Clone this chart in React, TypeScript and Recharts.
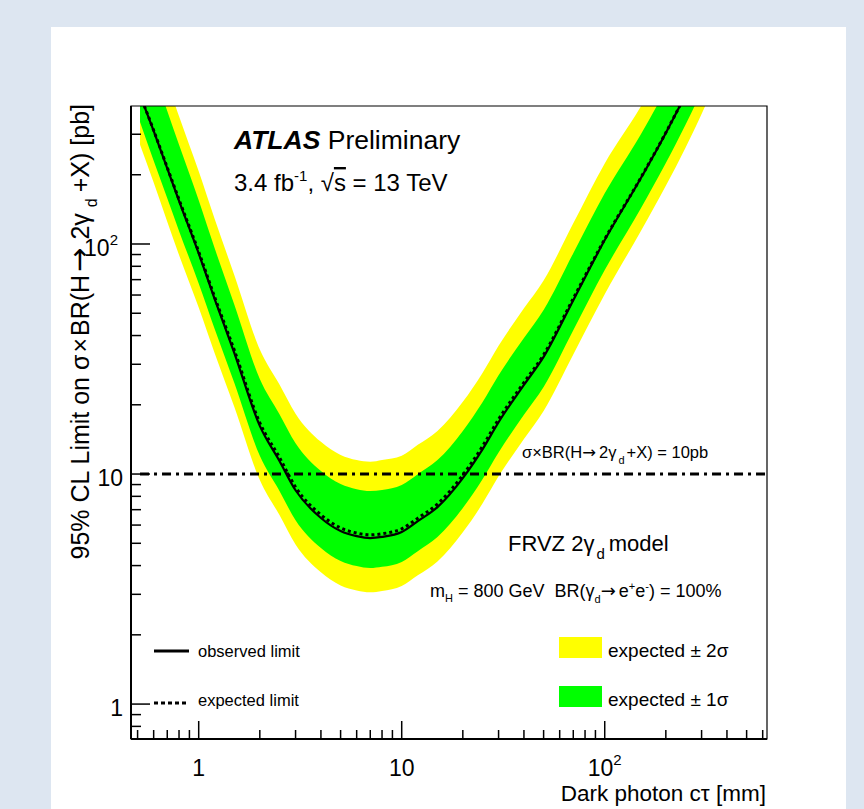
import React from 'react';
import { ComposedChart, Area, Line, XAxis, YAxis, ReferenceLine, ReferenceArea } from 'recharts';

// dark photon c*tau [mm]
const ctau = [0.514, 0.6, 0.7, 0.8, 1, 1.2, 1.5, 2, 2.5, 3, 4, 5, 6, 7, 8, 10, 12, 15, 20, 25, 30, 40, 50, 70, 100, 150, 200, 250, 300, 330];
// limits [pb]
const observed = [445, 310, 213, 154, 91, 57.5, 33.5, 16.2, 11.4, 8.5, 6.44, 5.65, 5.37, 5.27, 5.33, 5.6, 6.24, 7.18, 9.6, 12.8, 16.8, 24.4, 32.3, 57, 104, 192, 304, 446, 624, 755];
const expected = [445, 312, 215, 156, 92.5, 58.6, 34.4, 16.7, 11.8, 8.77, 6.65, 5.83, 5.54, 5.44, 5.5, 5.78, 6.43, 7.4, 9.9, 13.2, 17.3, 25.0, 33.0, 58, 105, 193, 305, 447, 625, 756];
const oneSigmaLow = [339, 230, 158, 114, 67.4, 42.6, 24.8, 12.0, 8.44, 6.3, 4.77, 4.19, 3.98, 3.9, 3.95, 4.15, 4.62, 5.32, 7.11, 9.48, 12.4, 18.1, 23.9, 42.2, 77, 142, 225, 330, 462, 559];
const oneSigmaHigh = [801, 558, 379, 270, 155, 95.5, 54.3, 25.9, 18.2, 13.6, 10.3, 9.04, 8.59, 8.43, 8.53, 8.96, 9.98, 11.5, 15.4, 20.5, 26.9, 39.0, 51.7, 91.2, 166, 298, 471, 691, 967, 1170];
const twoSigmaLow = [270, 185, 125, 89.5, 52.9, 33.4, 19.5, 9.42, 6.63, 4.94, 3.74, 3.28, 3.12, 3.06, 3.1, 3.26, 3.63, 4.17, 5.58, 7.44, 9.77, 14.2, 18.8, 33.1, 60.5, 113, 179, 262, 367, 444];
const twoSigmaHigh = [1068, 744, 505, 359, 207, 128, 73, 34.8, 24.5, 18.3, 13.8, 12.1, 11.5, 11.3, 11.5, 12.0, 13.4, 15.4, 20.6, 27.5, 36.1, 52.5, 69.4, 123, 224, 394, 623, 914, 1279, 1548];

const xTicks = [0.5, 0.6, 0.7, 0.8, 0.9, 1, 2, 3, 4, 5, 6, 7, 8, 9, 10, 20, 30, 40, 50, 60, 70, 80, 90, 100, 200, 300, 400, 500, 600];
const yTicks = [0.8, 0.9, 1, 2, 3, 4, 5, 6, 7, 8, 9, 10, 20, 30, 40, 50, 60, 70, 80, 90, 100, 200, 300];
const xDomain = [0.464, 630];
const yDomain = [0.705, 398];
const limitXsec = 10;

const FONT = '"Liberation Sans", Arial, Helvetica, sans-serif';
const ARROW_FONT = '"DejaVu Sans", sans-serif';

const chartData = ctau.map((x, i) => ({
    ctau: x,
    observed: observed[i],
    expected: expected[i],
    green: [oneSigmaLow[i], oneSigmaHigh[i]],
    yellow: [twoSigmaLow[i], twoSigmaHigh[i]],
}));

const isMajor = (v: number) => v === 1 || v === 10 || v === 100;

const XTick = ({ x, y, payload }: any) => {
    const v = payload.value;
    const len = isMajor(v) ? 18 : 9;
    return (
        <g>
            <line x1={x} y1={y} x2={x} y2={y - len} stroke="#000" strokeWidth={1.5} />
            {isMajor(v) && (
                <text x={x} y={y + 37} textAnchor="middle" fontSize={23} fontFamily={FONT} fill="#000">
                    {v === 100 ? <>10<tspan dy={-11} fontSize={15}>2</tspan></> : String(v)}
                </text>
            )}
        </g>
    );
};

const YTick = ({ x, y, payload }: any) => {
    const v = payload.value;
    const len = isMajor(v) ? 19 : 10;
    return (
        <g>
            <line x1={x} y1={y} x2={x + len} y2={y} stroke="#000" strokeWidth={1.5} />
            {isMajor(v) && (
                <text x={v === 100 ? x - 13 : x - 8} y={y + 12} textAnchor="end" fontSize={23} fontFamily={FONT} fill="#000">
                    {v === 100 ? <>10<tspan dy={-11} fontSize={15}>2</tspan></> : String(v)}
                </text>
            )}
        </g>
    );
};

const Arrow = ({ size }: { size?: number }) => <tspan fontFamily={ARROW_FONT} fontSize={size}>→</tspan>;

function Annotations() {
    return (
        <svg width={864} height={809} style={{ position: 'absolute', left: 0, top: 0, pointerEvents: 'none' }} fontFamily={FONT}>
            {/* axis titles */}
            <text transform="translate(89,104) rotate(-90)" textAnchor="end" fontSize={25} fill="#000">
                95% CL Limit on σ<tspan dx={2}>×</tspan><tspan dx={2}>BR(H</tspan><tspan dx={3}><Arrow size={29} /></tspan><tspan dx={8}>2γ</tspan><tspan dx={6} dy={8} fontSize={16}>d</tspan><tspan dx={6} dy={-8}>+X) [pb]</tspan>
            </text>
            <text x={766} y={801} textAnchor="end" fontSize={22.5} fill="#000">Dark photon cτ [mm]</text>

            <text x={234} y={149} fontSize={26.5} fill="#000">
                <tspan fontWeight="bold" fontStyle="italic">ATLAS</tspan> Preliminary
            </text>
            <text x={234} y={191} fontSize={24} fill="#000">
                3.4 fb<tspan dy={-10} fontSize={15}>-1</tspan><tspan dy={10}>, √</tspan><tspan style={{ textDecoration: 'overline' }}>s</tspan> = 13 TeV
            </text>

            <text x={522} y={458} fontSize={16.5} fill="#000">
                σ×BR(H<Arrow /><tspan dx={3}>2γ</tspan><tspan dx={2} dy={6} fontSize={11}>d</tspan><tspan dx={2} dy={-6}>+X) = 10pb</tspan>
            </text>
            <text x={508} y={551} fontSize={22} fill="#000">
                FRVZ 2γ<tspan dx={2} dy={8} fontSize={15}>d</tspan><tspan dx={4} dy={-8}>model</tspan>
            </text>
            <text x={430} y={597} fontSize={18} fill="#000">
                m<tspan dy={5} fontSize={11}>H</tspan><tspan dy={-5}> = 800 GeV{'\u00a0\u00a0'}BR(γ</tspan><tspan dy={6} fontSize={11}>d</tspan><tspan dy={-6}><Arrow /></tspan><tspan dx={3}>e</tspan><tspan dy={-7} fontSize={11}>+</tspan><tspan dy={7}>e</tspan><tspan dy={-7} fontSize={11}>-</tspan><tspan dy={7}>) = 100%</tspan>
            </text>

            {/* legend */}
            <line x1={154} y1={651} x2={189} y2={651} stroke="#000" strokeWidth={3} />
            <text x={198} y={657} fontSize={16.5} fill="#000">observed limit</text>
            <line x1={154} y1={703} x2={189} y2={703} stroke="#000" strokeWidth={3} strokeDasharray="4 3" />
            <text x={198} y={706} fontSize={16.5} fill="#000">expected limit</text>

            <rect x={559} y={637} width={43} height={21} fill="#ffff00" />
            <text x={608} y={657} fontSize={19} fill="#000">expected ± 2σ</text>
            <rect x={559} y={686} width={43} height={21} fill="#00ff00" />
            <text x={608} y={706} fontSize={19} fill="#000">expected ± 1σ</text>
        </svg>
    );
}

export default function App() {
    return (
        <div style={{ position: 'absolute', left: 0, top: 0, width: 864, height: 809, background: '#dde6f1', overflow: 'hidden' }}>
            <div style={{ position: 'absolute', left: 51, top: 27, width: 795, height: 782, background: '#fff' }} />
            <div style={{ position: 'absolute', left: 0, top: 0 }}>
                <ComposedChart width={864} height={809} data={chartData} margin={{ top: 106, right: 97, bottom: 30, left: 71 }}>
                    <XAxis
                        dataKey="ctau"
                        type="number"
                        scale="log"
                        domain={xDomain}
                        allowDataOverflow
                        ticks={xTicks}
                        interval={0}
                        tickSize={0}
                        tickMargin={0}
                        tickLine={false}
                        tick={<XTick />}
                        height={40}
                        axisLine={{ stroke: '#000', strokeWidth: 2 }}
                    />
                    <YAxis
                        type="number"
                        scale="log"
                        domain={yDomain}
                        allowDataOverflow
                        ticks={yTicks}
                        interval={0}
                        tickSize={0}
                        tickMargin={0}
                        tickLine={false}
                        tick={<YTick />}
                        width={60}
                        axisLine={{ stroke: '#000', strokeWidth: 2 }}
                    />
                    <Area dataKey="yellow" type="monotone" fill="#ffff00" fillOpacity={1} stroke="none" isAnimationActive={false} />
                    <Area dataKey="green" type="monotone" fill="#00ff00" fillOpacity={1} stroke="none" isAnimationActive={false} />
                    <ReferenceLine
                        segment={[{ x: ctau[0], y: limitXsec }, { x: xDomain[1], y: limitXsec }]}
                        stroke="#000"
                        strokeWidth={3}
                        strokeDasharray="9 5 3 5"
                    />
                    <Line dataKey="expected" type="monotone" stroke="#000" strokeWidth={3} strokeDasharray="3 3" dot={false} isAnimationActive={false} />
                    <Line dataKey="observed" type="monotone" stroke="#000" strokeWidth={2.2} dot={false} isAnimationActive={false} />
                    <ReferenceArea x1={xDomain[0]} x2={xDomain[1]} y1={yDomain[0]} y2={yDomain[1]} fill="none" stroke="#000" strokeWidth={1.2} />
                </ComposedChart>
            </div>
            <Annotations />
        </div>
    );
}
